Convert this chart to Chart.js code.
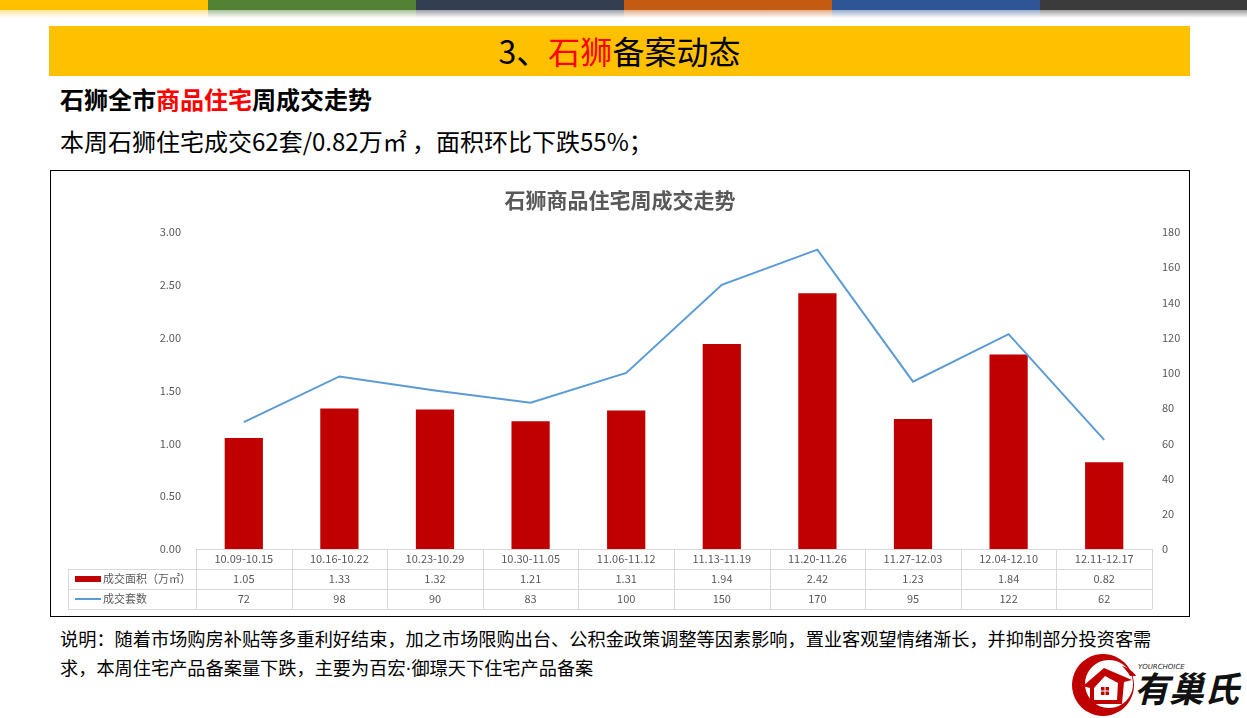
<!DOCTYPE html>
<html>
<head>
<meta charset="utf-8">
<script src="https://cdn.jsdelivr.net/npm/chart.js@4/dist/chart.umd.min.js"></script>
<style>
  html, body { margin:0; padding:0; background:#fff; }
  body { width:1247px; height:718px; position:relative; overflow:hidden; font-family:"Noto Sans CJK SC","Noto Sans",sans-serif; }
  .seg { position:absolute; top:0; height:10px; }
  .fade { position:absolute; top:10px; height:8px; }
  #band { position:absolute; left:49px; top:26px; width:1141px; height:50px; background:#FFC000; }
  #band div { position:absolute; left:0; right:0; top:2px; text-align:center; font-size:32px; line-height:44px; color:#000; }
  .red { color:#FF0000; }
  #sub { position:absolute; left:60px; top:83px; font-size:24px; font-weight:bold; line-height:32px; color:#000; }
  #line2 { position:absolute; left:60px; top:125px; font-size:24px; line-height:32px; color:#000; white-space:nowrap; }
  #box { position:absolute; left:50px; top:170px; width:1140px; height:447px; box-sizing:border-box; border:1px solid #000; }
  #box canvas { position:absolute; left:0; top:0; }
  #note { position:absolute; left:60px; top:624px; font-size:18.2px; line-height:29px; color:#000; white-space:nowrap; }
  .dot { font-family:"DejaVu Sans",sans-serif; }
  #logo { position:absolute; left:1064px; top:646px; }
</style>
</head>
<body>
<div class="seg" style="left:0;width:208px;background:#FFC000"></div>
<div class="seg" style="left:208px;width:208px;background:#548235"></div>
<div class="seg" style="left:416px;width:208px;background:#333F50"></div>
<div class="seg" style="left:624px;width:208px;background:#C55A11"></div>
<div class="seg" style="left:832px;width:208px;background:#2F5597"></div>
<div class="seg" style="left:1040px;width:207px;background:#3B3B3B"></div>
<div class="fade" style="left:0;width:208px;background:linear-gradient(#FFE599,#fff)"></div>
<div class="fade" style="left:208px;width:208px;background:linear-gradient(#A9C19A,#fff)"></div>
<div class="fade" style="left:416px;width:208px;background:linear-gradient(#999FA8,#fff)"></div>
<div class="fade" style="left:624px;width:208px;background:linear-gradient(#E2AC88,#fff)"></div>
<div class="fade" style="left:832px;width:208px;background:linear-gradient(#97AACB,#fff)"></div>
<div class="fade" style="left:1040px;width:207px;background:linear-gradient(#9D9D9D,#fff)"></div>

<div id="band"><div>3、<span class="red">石狮</span>备案动态</div></div>
<div id="sub">石狮全市<span class="red">商品住宅</span>周成交走势</div>
<div id="line2">本周石狮住宅成交62套/0.82万㎡ ，面积环比下跌55%；</div>

<div id="box"><canvas id="c" width="1138" height="445"></canvas></div>

<div id="note">说明：随着市场购房补贴等多重利好结束，加之市场限购出台、公积金政策调整等因素影响，置业客观望情绪渐长，并抑制部分投资客需<br>求，本周住宅产品备案量下跌，主要为百宏<span class="dot">·</span>御璟天下住宅产品备案</div>

<svg id="logo" width="183" height="72" viewBox="0 0 183 72">
  <defs>
    <clipPath id="gap"><path d="M0 0 H56 L90 36 L62 72 H0 Z"/></clipPath>
  </defs>
  <path clip-path="url(#gap)" fill-rule="evenodd" fill="#C00000"
        d="M39 8 a31 31 0 1 0 0.01 0 Z M45 14 a24 24 0 1 0 0.01 0 Z"/>
  <path d="M58 20 C64 22 70 26 72 30 L66 30 C64 26 61 23 58 20 Z" fill="#C00000"/>
  <path d="M19 40 L40 22 L68 34 L60 36 L58 58 L26 58 L26 42 Z" fill="#C00000"/>
  <path d="M30 42 L41 30 L54 37 L53 54 L30 54 Z" fill="#fff"/>
  <rect x="37" y="41" width="8" height="8" fill="#C00000"/>
  <rect x="40.5" y="41" width="1" height="8" fill="#fff"/>
  <rect x="37" y="44.5" width="8" height="1" fill="#fff"/>
  <text x="74" y="23" font-family="DejaVu Sans" font-style="italic" font-size="7" fill="#222">YOURCHOICE</text>
  <text x="70" y="56" font-family="Noto Sans CJK SC" font-weight="bold" font-style="italic" font-size="35" fill="#111">有巢氏</text>
</svg>

<script>
const categories = ["10.09-10.15","10.16-10.22","10.23-10.29","10.30-11.05","11.06-11.12","11.13-11.19","11.20-11.26","11.27-12.03","12.04-12.10","12.11-12.17"];
const areaValues = [1.05,1.33,1.32,1.21,1.31,1.94,2.42,1.23,1.84,0.82];
const countValues = [72,98,90,83,100,150,170,95,122,62];
const areaLabel = "成交面积（万㎡）";
const countLabel = "成交套数";
const chartTitle = "石狮商品住宅周成交走势";

const tickColor = "#595959";
const fontFamily = '"Noto Sans CJK SC","Noto Sans",sans-serif';

const tablePlugin = {
  id: 'dataTable',
  afterDraw(chart) {
    const ctx = chart.ctx;
    const x = chart.scales.x;
    const area = chart.chartArea;
    const rowH = 20;
    const top = area.bottom;
    const leftEdge = 17;
    const n = categories.length;
    const colW = (area.right - area.left) / n;
    ctx.save();
    ctx.strokeStyle = "#D9D9D9";
    ctx.lineWidth = 1;
    ctx.beginPath();
    ctx.moveTo(area.left, top + 0.5); ctx.lineTo(area.right, top + 0.5);
    for (let r = 1; r <= 3; r++) {
      ctx.moveTo(leftEdge, top + r * rowH + 0.5); ctx.lineTo(area.right, top + r * rowH + 0.5);
    }
    ctx.moveTo(leftEdge + 0.5, top + rowH); ctx.lineTo(leftEdge + 0.5, top + 3 * rowH);
    for (let i = 0; i <= n; i++) {
      const px = Math.round(x.getPixelForValue(i) - colW / 2) + 0.5;
      ctx.moveTo(px, top); ctx.lineTo(px, top + 3 * rowH);
    }
    ctx.stroke();

    ctx.fillStyle = tickColor;
    ctx.font = "11px " + fontFamily;
    ctx.textAlign = "center";
    ctx.textBaseline = "middle";
    for (let i = 0; i < n; i++) {
      const cx = x.getPixelForValue(i);
      ctx.fillText(categories[i], cx, top + rowH * 0.5);
      ctx.fillText(areaValues[i].toFixed(2), cx, top + rowH * 1.5);
      ctx.fillText(String(countValues[i]), cx, top + rowH * 2.5);
    }
    ctx.fillStyle = "#C00000";
    ctx.fillRect(24, top + rowH * 1.5 - 3, 26, 6);
    ctx.strokeStyle = "#5B9BD5";
    ctx.lineWidth = 2;
    ctx.beginPath();
    ctx.moveTo(24, top + rowH * 2.5); ctx.lineTo(50, top + rowH * 2.5);
    ctx.stroke();
    ctx.fillStyle = tickColor;
    ctx.textAlign = "left";
    ctx.fillText(areaLabel, 52, top + rowH * 1.5);
    ctx.fillText(countLabel, 52, top + rowH * 2.5);
    ctx.font = "bold 21px " + fontFamily;
    ctx.textAlign = "center";
    ctx.fillStyle = "#595959";
    ctx.fillText(chartTitle, 569, 29);
    ctx.restore();
  }
};

new Chart(document.getElementById('c'), {
  data: {
    labels: categories,
    datasets: [
      { type: 'line', label: countLabel, data: countValues, yAxisID: 'y1', borderColor: '#5B9BD5', borderWidth: 2, pointRadius: 0, tension: 0, order: 0 },
      { type: 'bar', label: areaLabel, data: areaValues, yAxisID: 'y', backgroundColor: '#C00000', categoryPercentage: 1, barPercentage: 0.4, order: 1 }
    ]
  },
  options: {
    responsive: false,
    animation: false,
    devicePixelRatio: 1,
    layout: { padding: { top: 61, bottom: 67, left: 0, right: 0 } },
    plugins: { legend: { display: false }, title: { display: false }, tooltip: { enabled: false } },
    scales: {
      x: { display: false, offset: true },
      y: {
        position: 'left', min: 0, max: 3,
        ticks: { stepSize: 0.5, padding: 15, color: tickColor, font: { size: 11, family: fontFamily }, callback: v => Number(v).toFixed(2) },
        grid: { display: false, drawTicks: false }, border: { display: false },
        afterFit(s) { s.width = 145; }
      },
      y1: {
        position: 'right', min: 0, max: 180,
        ticks: { stepSize: 20, padding: 10, color: tickColor, font: { size: 11, family: fontFamily } },
        grid: { display: false, drawTicks: false }, border: { display: false },
        afterFit(s) { s.width = 37; }
      }
    }
  },
  plugins: [tablePlugin]
});
</script>
</body>
</html>
